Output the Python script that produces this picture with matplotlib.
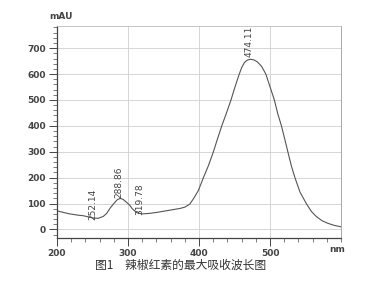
import matplotlib
matplotlib.use("Agg")
import matplotlib.pyplot as plt
from matplotlib.ticker import MultipleLocator

plt.rcParams['font.family'] = ['Noto Sans CJK SC', 'DejaVu Sans']

# spectrum
wavelength = [200, 210, 218, 230, 237, 245, 251, 258, 265, 270, 275, 280, 285,
              289, 293, 297, 302, 306, 310, 313, 320, 330, 341, 358, 373, 380,
              387, 392, 399, 406, 413, 420, 426, 432, 438, 445, 450, 456, 460,
              464, 468, 472, 477, 482, 488, 494, 500, 506, 511, 516, 521, 525,
              530, 535, 542, 551, 558, 565, 573, 581, 590, 600]
absorbance = [72, 65, 60, 55, 53, 48, 44, 43, 50, 62, 83, 100, 115,
              120, 116, 107, 95, 80, 70, 64, 60, 62, 66, 74, 81, 86,
              98, 118, 150, 199, 245, 298, 350, 400, 445, 500, 545, 595, 625,
              645, 654, 657, 655, 647, 630, 600, 550, 500, 445, 400, 345, 300,
              245, 200, 145, 100, 70, 50, 34, 24, 16, 10]

peak_labels = ["252.14", "288.86", "319.78", "474.11"]
peak_x = [250, 287, 317, 471]
peak_y = [37, 121, 56, 666]

x_ticks = [200, 300, 400, 500]
y_ticks = [0, 100, 200, 300, 400, 500, 600, 700]
caption = "图1　辣椒红素的最大吸收波长图"

fig = plt.figure(figsize=(3.85, 2.84), dpi=100)
ax = fig.add_axes([0.148, 0.162, 0.738, 0.746])

grid_c = "#cfcfcf"
for v in y_ticks:
    ax.axhline(v, color=grid_c, lw=0.6, zorder=0)
for v in x_ticks[1:]:
    ax.axvline(v, color=grid_c, lw=0.6, zorder=0)

ax.plot(wavelength, absorbance, color="#555555", lw=0.8)

for lab, px, py in zip(peak_labels, peak_x, peak_y):
    ax.text(px, py, lab, rotation=90, ha="center", va="bottom",
            fontsize=6.5, color="#444444", family="DejaVu Sans", clip_on=False)

ax.set_xlim(200, 600)
ax.set_ylim(-33, 785)
ax.set_xticks(x_ticks)
ax.set_yticks(y_ticks)
ax.xaxis.set_minor_locator(MultipleLocator(20))
ax.yaxis.set_minor_locator(MultipleLocator(20))
ax.tick_params(which="major", length=6, width=0.7, color="#444444",
               labelsize=6.5, labelcolor="#444444", pad=2)
ax.tick_params(which="minor", length=3, width=0.6, color="#666666")
for lbl in ax.get_xticklabels() + ax.get_yticklabels():
    lbl.set_family("DejaVu Sans")
    lbl.set_fontweight("bold")

ax.spines["left"].set_color("#444444")
ax.spines["bottom"].set_color("#444444")
ax.spines["left"].set_linewidth(0.9)
ax.spines["bottom"].set_linewidth(0.9)
ax.spines["top"].set_color("#bbbbbb")
ax.spines["right"].set_color("#999999")
ax.spines["top"].set_linewidth(0.6)
ax.spines["right"].set_linewidth(0.6)

fig.text(0.127, 0.925, "mAU", fontsize=6.5, color="#444444",
         family="DejaVu Sans", fontweight="bold", va="bottom")
fig.text(0.855, 0.123, "nm", fontsize=6.5, color="#444444",
         family="DejaVu Sans", fontweight="bold", va="center")
fig.text(0.47, 0.067, caption, fontsize=8.5, color="#333333", ha="center",
         va="center")

fig.savefig("out.png", dpi=100)
